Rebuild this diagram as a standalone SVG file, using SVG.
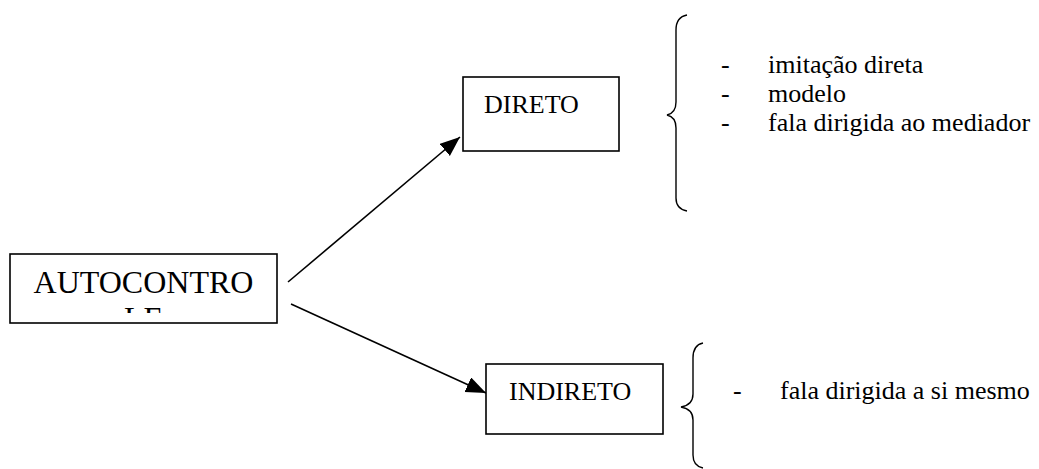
<svg xmlns="http://www.w3.org/2000/svg" width="1039" height="469" viewBox="0 0 1039 469">
<style>
.box{fill:#fff;stroke:#000;stroke-width:1.6}
text{font-family:'Liberation Serif','DejaVu Serif',serif;fill:#000;font-size:26px}
.conn{stroke:#000;stroke-width:1.6;fill:none}
.brace{stroke:#000;stroke-width:1.4;fill:none}
</style>
<defs>
<marker id="ah" markerUnits="userSpaceOnUse" markerWidth="22" markerHeight="18" refX="20" refY="8" orient="auto">
<path d="M0,0 L20,8 L0,16 z" fill="#000"/>
</marker>
<clipPath id="clipA"><rect x="10" y="254" width="267" height="59"/></clipPath>
</defs>
<rect width="1039" height="469" fill="#fff"/>
<g id="connectors">
<line class="conn" x1="288" y1="282" x2="460" y2="137" marker-end="url(#ah)"/>
<line class="conn" x1="291" y1="304" x2="486" y2="393" marker-end="url(#ah)"/>
</g>
<g id="autocontrole">
<rect class="box" x="10" y="254" width="267" height="69"/>
<g clip-path="url(#clipA)">
<text x="143.5" y="293" style="font-size:32px" text-anchor="middle">AUTOCONTRO</text>
<text x="143.5" y="329" style="font-size:32px" text-anchor="middle">LE</text>
</g>
</g>
<g id="direto">
<rect class="box" x="463" y="77" width="156" height="74"/>
<text x="484" y="113">DIRETO</text>
</g>
<g id="indireto">
<rect class="box" x="486" y="364" width="177" height="70"/>
<text x="509" y="400">INDIRETO</text>
</g>
<g id="direto-list">
<path class="brace" d="M687,15 Q676,17 676,30 L676,102 Q676,113 667,115 Q676,117 676,128 L676,198 Q676,209 687,211"/>
<text x="721" y="73">-</text>
<text x="768" y="73">imitação direta</text>
<text x="721" y="102">-</text>
<text x="768" y="102">modelo</text>
<text x="721" y="131">-</text>
<text x="768" y="131">fala dirigida ao mediador</text>
</g>
<g id="indireto-list">
<path class="brace" d="M703,343 Q693,345 693,358 L693,394 Q693,405 681,407 Q693,409 693,420 L693,455 Q693,466 703,468"/>
<text x="733" y="399">-</text>
<text x="780" y="399">fala dirigida a si mesmo</text>
</g>
</svg>
